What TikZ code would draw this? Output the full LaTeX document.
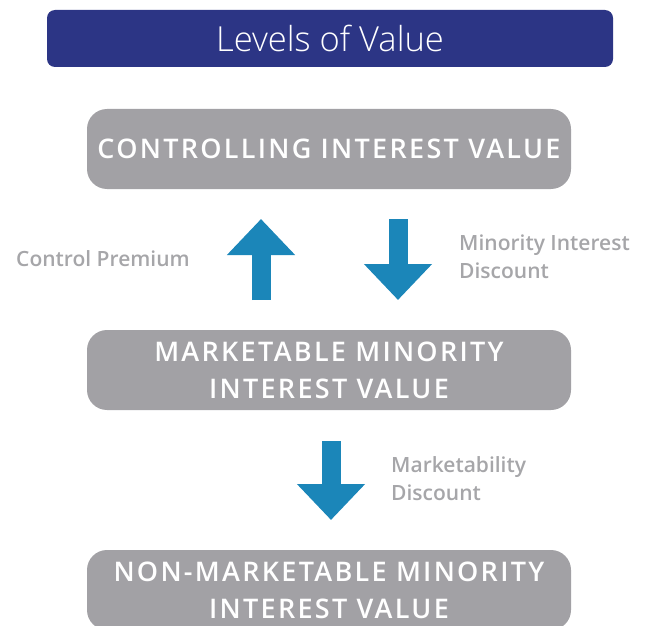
\documentclass[tikz,border=0pt]{standalone}
\usepackage{fontspec}
\setmainfont{Open Sans Semibold}
\newfontfamily\titlefont{Open Sans Light}
\newfontfamily\boxfont{Open Sans Semibold}[LetterSpace=8.5]
\usetikzlibrary{arrows.meta}

\definecolor{titleblue}{HTML}{2C3585}
\definecolor{boxgray}{HTML}{A2A1A5}
\definecolor{arrowblue}{HTML}{1B86B9}
\definecolor{labelgray}{HTML}{A6A6A9}

\tikzset{
  titlebox/.style={fill=titleblue, rounded corners=8pt, minimum width=566pt, minimum height=57pt,
    text=white, font=\titlefont\fontsize{34.5}{36}\selectfont},
  valbox/.style={fill=boxgray, rounded corners=20pt, minimum width=484pt, minimum height=80pt,
    text=white, align=center, inner sep=0pt, font=\boxfont\fontsize{27}{37}\selectfont},
  steplabel/.style={text=labelgray, align=left, inner sep=0pt, font=\fontsize{21}{28}\selectfont},
  bigarrow/.style={arrowblue, line width=19pt, -{Triangle[width=66pt, length=36pt]}}
}

\begin{document}
\begin{tikzpicture}[x=1pt, y=-1pt]
  \useasboundingbox (0,0) rectangle (646,626);
  \clip (0,0) rectangle (646,626);
  % title and the three levels
  \node[titlebox] (title) at (330,38.5) {Levels of Value};
  \node[valbox] (ctrl) at (329,149) {CONTROLLING INTEREST VALUE};
  \node[valbox] (mkt) at (329,370) {MARKETABLE MINORITY\\INTEREST VALUE};
  \node[valbox] (nonmkt) at (329,590) {NON-MARKETABLE MINORITY\\INTEREST VALUE};
  % arrows between the levels
  \coordinate (up0) at (261,300);
  \coordinate (up1) at (261,219);
  \coordinate (dn0) at (398,219);
  \coordinate (dn1) at (398,300);
  \coordinate (mk0) at (331,441);
  \coordinate (mk1) at (331,520);
  \draw[bigarrow] (up0) -- (up1);
  \draw[bigarrow] (dn0) -- (dn1);
  \draw[bigarrow] (mk0) -- (mk1);
  % labels
  \node[steplabel, anchor=west] (prem) at (16,259) {Control Premium};
  \node[steplabel, anchor=west] (minor) at (459,257) {Minority Interest\\Discount};
  \node[steplabel, anchor=west] (mktdisc) at (391,479) {Marketability\\Discount};
\end{tikzpicture}
\end{document}
